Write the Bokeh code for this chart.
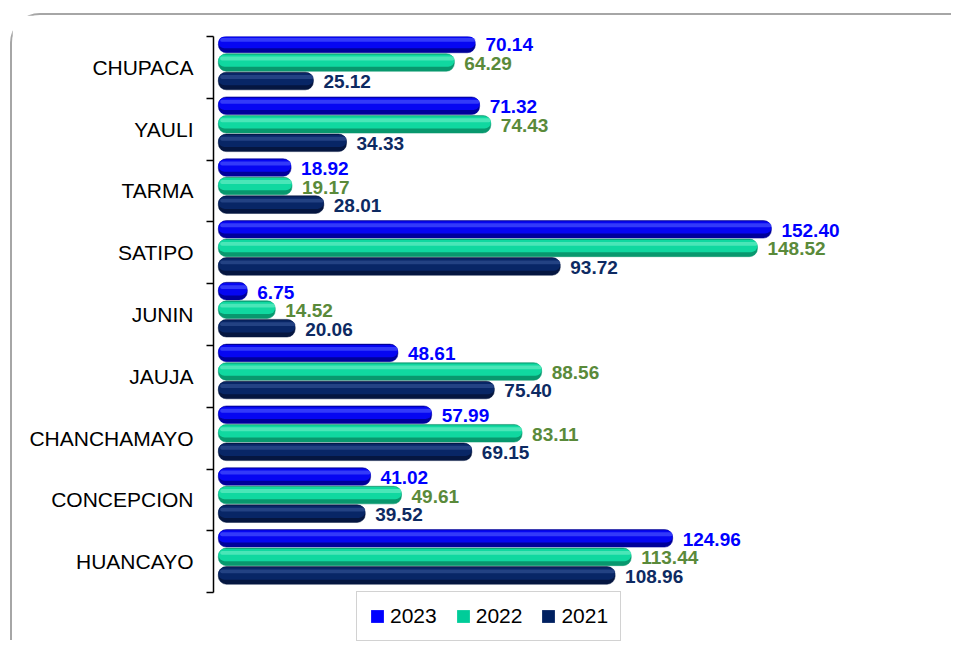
from bokeh.plotting import figure
from bokeh.models import (Range1d, LinearAxis, FixedTicker,
                          ColumnDataSource, Legend, LegendItem)
from bokeh.core.properties import value
from bokeh.embed import file_html
from bokeh.resources import INLINE

# ---- data (top to bottom as shown) ----
categories = ["CHUPACA", "YAULI", "TARMA", "SATIPO", "JUNIN", "JAUJA",
              "CHANCHAMAYO", "CONCEPCION", "HUANCAYO"]
v2023 = [70.14, 71.32, 18.92, 152.40, 6.75, 48.61, 57.99, 41.02, 124.96]
v2022 = [64.29, 74.43, 19.17, 148.52, 14.52, 88.56, 83.11, 49.61, 113.44]
v2021 = [25.12, 34.33, 28.01, 93.72, 20.06, 75.40, 69.15, 39.52, 108.96]
series_names = ["2023", "2022", "2021"]

FONT = "Liberation Sans"
n = len(categories)
centers = [n - 1 - i + 0.5 for i in range(n)]   # band centres, first category on top
bounds_ticks = list(range(n + 1))               # band boundaries

p = figure(width=941, height=627, y_range=Range1d(-0.806, n),
           x_range=Range1d(-2.64, 198.0), output_backend="svg", toolbar_location=None,
           y_axis_location=None, x_axis_location=None,
           min_border_left=201, min_border_top=21, min_border_bottom=0, min_border_right=18)
p.outline_line_color = None
p.xgrid.visible = False
p.ygrid.visible = False
p.styles = {"border-top": "2.5px solid #a6a6a6", "border-left": "2.5px solid #a6a6a6",
            "border-top-left-radius": "30px", "margin-left": "10px", "margin-top": "13px"}

cat_axis = LinearAxis(ticker=FixedTicker(ticks=centers, minor_ticks=bounds_ticks), bounds=(0, n),
                      major_label_overrides={c: name for c, name in zip(centers, categories)},
                      major_tick_line_color=None, major_tick_out=7, major_tick_in=0,
                      minor_tick_line_color="black", minor_tick_out=7, minor_tick_in=0,
                      minor_tick_line_width=1.5,
                      axis_line_color="black", axis_line_width=1.5,
                      major_label_standoff=13,
                      major_label_text_font=FONT, major_label_text_font_size="21px",
                      major_label_text_color="black")
p.add_layout(cat_axis, "left")

styles = [
    # key, offset, main, dark, light, label colour, legend colour
    ("2023", 0.38, "#0606f2", "#00009a", "#5a66ff", "#0000ff", "#0000ff"),
    ("2022", 0.08, "#10d8a0", "#08986e", "#7af2cc", "#5a8a3a", "#00cc99"),
    ("2021", -0.22, "#082666", "#051640", "#3a5a9a", "#0d2a62", "#002060"),
]
vals = {"2023": v2023, "2022": v2022, "2021": v2021}
BH = 0.285
items = []
for key, off, main, dark, light, lab, legc in styles:
    src = ColumnDataSource(dict(
        y=[c + off for c in centers],
        y_main=[c + off + 0.03 for c in centers],
        y_hi=[c + off + 0.065 for c in centers],
        v=vals[key],
        lbl=[f"{v:.2f}" for v in vals[key]]))
    p.hbar(y="y", left=-1.3, right="v", height=BH, source=src,
           fill_color=dark, line_color=dark, line_width=0.5, border_radius=8)
    p.hbar(y="y_main", left=-1.3, right="v", height=BH * 0.7,
           source=src, fill_color=main, line_color=None, border_radius=7)
    p.hbar(y="y_hi", left=-0.8, right="v", height=BH * 0.22,
           source=src, fill_color=light, fill_alpha=0.55, line_color=None, border_radius=3)
    p.text(x="v", y="y", text="lbl", source=src,
           x_offset=10, y_offset=1, text_baseline="middle", text_align="left",
           text_font=value(FONT), text_font_style="bold", text_font_size="19px", text_color=lab)
    # legend swatch renderer (plain square, same series)
    sw = p.hbar(y="y", left=0, right=0, height=0, source=src,
                fill_color=legc, line_color=None)
    items.append(LegendItem(label=key, renderers=[sw]))

legend = Legend(items=items, orientation="horizontal", location=(143, 1),
                label_text_font=FONT, label_text_font_size="21px", label_text_color="black",
                glyph_width=16, glyph_height=16, label_standoff=5, spacing=18,
                padding=12, margin=0, border_line_color="#a6a6a6", border_line_width=1.5,
                background_fill_alpha=1)
legend.padding = 12
p.add_layout(legend, "center")

open("out.html", "w").write(file_html(p, INLINE))
